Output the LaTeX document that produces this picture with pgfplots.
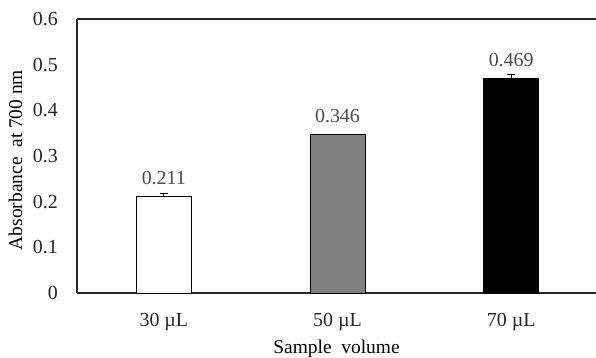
\documentclass[border=0pt]{standalone}
\usepackage{fontspec}
\setmainfont{Liberation Serif}
\usepackage{pgfplots}
\pgfplotsset{compat=1.18}
\begin{document}
\begin{tikzpicture}
\begin{axis}[
  scale only axis,
  anchor=south west, at={(0,0)},
  width=519bp, height=274bp,
  xmin=-0.5, xmax=2.4885,
  ymin=0, ymax=0.6,
  axis x line*=bottom, axis y line*=left,
  axis line style={line width=1.1pt, draw=black!85, -},
  ytick={0,0.1,0.2,0.3,0.4,0.5,0.6},
  yticklabel style={/pgf/number format/fixed,/pgf/number format/precision=1, anchor=east, inner sep=0pt, xshift=-19bp},
  /pgf/number format/assume math mode=true,
  major tick length=0pt,
  xtick={0,1,2},
  xticklabels={30 µL,50 µL,70 µL},
  tick label style={font=\fontsize{20}{22}\selectfont, text=black!85},
  xticklabel style={anchor=base, inner sep=0pt, yshift=-33bp},
  xlabel={Sample\ \ volume},
  ylabel={Absorbance\ \ at 700 nm},
  xlabel style={font=\fontsize{19.5}{22}\selectfont, at={(axis description cs:0.5,0)}, anchor=base, inner sep=0pt, yshift=-60bp},
  ylabel style={font=\fontsize{19.5}{22}\selectfont, at={(axis description cs:0,0.5)}, anchor=center, inner sep=0pt, yshift=61.5bp, xshift=-4bp},
  ybar, bar width=55bp, bar shift=0pt,
  nodes near coords,
  nodes near coords style={font=\fontsize{20}{22}\selectfont, text=black!70, anchor=base, inner sep=0pt, yshift=12.5bp, /pgf/number format/fixed, /pgf/number format/precision=3, /pgf/number format/fixed zerofill},
  error bars/y dir=plus, error bars/y explicit,
  error bars/error bar style={line width=0.8pt, black},
  error bars/error mark options={rotate=90, mark size=4bp, line width=0.8pt, black},
  clip=false,
]
\addplot[draw=black, line width=1pt, fill=white] coordinates {(0,0.211) +- (0,0.0075)};
\addplot[draw=black, line width=1pt, fill=black!50] coordinates {(1,0.346) +- (0,0.002)};
\addplot[draw=black, line width=1pt, fill=black] coordinates {(2,0.469) +- (0,0.010)};
\draw[line width=1.1pt, draw=black!85] (rel axis cs:0,1) -- (rel axis cs:1,1);
\end{axis}
\pgfresetboundingbox
\useasboundingbox (-77bp,-65bp) rectangle (519bp,293bp);
\end{tikzpicture}
\end{document}
